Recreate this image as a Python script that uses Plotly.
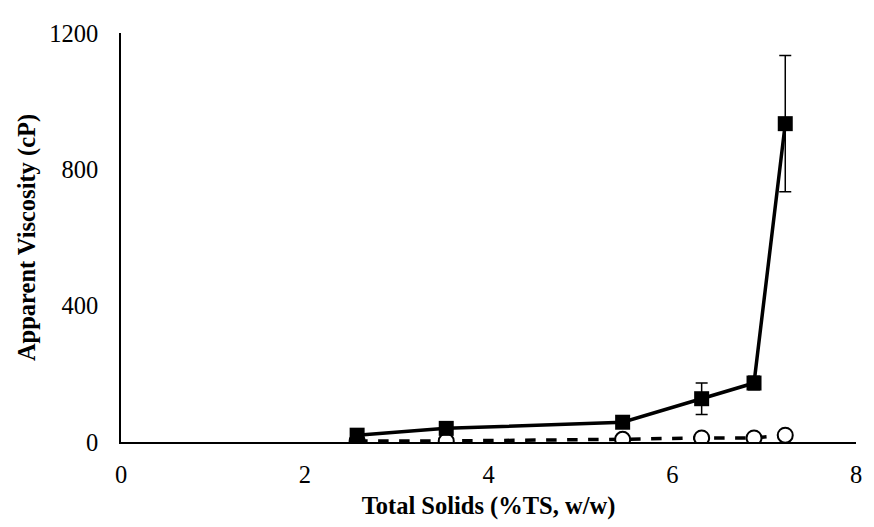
import plotly.graph_objects as go

total_solids = [2.57, 3.54, 5.46, 6.32, 6.89, 7.23]
visc_square = [20, 40, 58, 127, 173, 934]
err_square = [3, 4, 5, 46, 20, 200]
visc_circle = [3, 3, 8, 12, 12, 20]
err_circle = [1, 1, 2, 2, 2, 2]

x_ticks = [0, 2, 4, 6, 8]
y_ticks = [0, 400, 800, 1200]

fig = go.Figure()
fig.add_trace(go.Scatter(
    x=total_solids, y=visc_circle, mode="lines+markers",
    line=dict(color="black", width=3.5, dash="dash"),
    marker=dict(symbol="circle", size=15, color="white", line=dict(color="black", width=2)),
    error_y=dict(type="data", array=err_circle, color="black", thickness=1.5, width=5),
    showlegend=False,
))
fig.add_trace(go.Scatter(
    x=total_solids, y=visc_square, mode="lines+markers",
    line=dict(color="black", width=3.5),
    marker=dict(symbol="square", size=15, color="black"),
    error_y=dict(type="data", array=err_square, color="black", thickness=1.5, width=6),
    showlegend=False,
))

font_family = "Liberation Serif, Times New Roman, serif"
fig.update_layout(
    width=866, height=519,
    margin=dict(l=113, r=16, t=19, b=85),
    plot_bgcolor="white", paper_bgcolor="white",
    font=dict(family=font_family, color="black", size=24),
    xaxis=dict(
        range=[0, 8], tickvals=x_ticks, showgrid=False, zeroline=False,
        showline=True, linecolor="black", linewidth=1.5, ticks="",
        ticklabelstandoff=10,
        tickfont=dict(size=24.5, family=font_family),
        title=dict(text="<b>Total Solids (%TS, w/w)</b>", font=dict(size=24.5, family=font_family), standoff=10),
    ),
    yaxis=dict(
        range=[0, 1200], tickvals=y_ticks, showgrid=False, zeroline=False,
        showline=True, linecolor="black", linewidth=1.5, ticks="",
        ticklabelstandoff=16,
        tickfont=dict(size=24.5, family=font_family),
        title=dict(text="<b>Apparent Viscosity (cP)</b>", font=dict(size=24.5, family=font_family), standoff=7),
    ),
)
fig.write_html("out.html")
